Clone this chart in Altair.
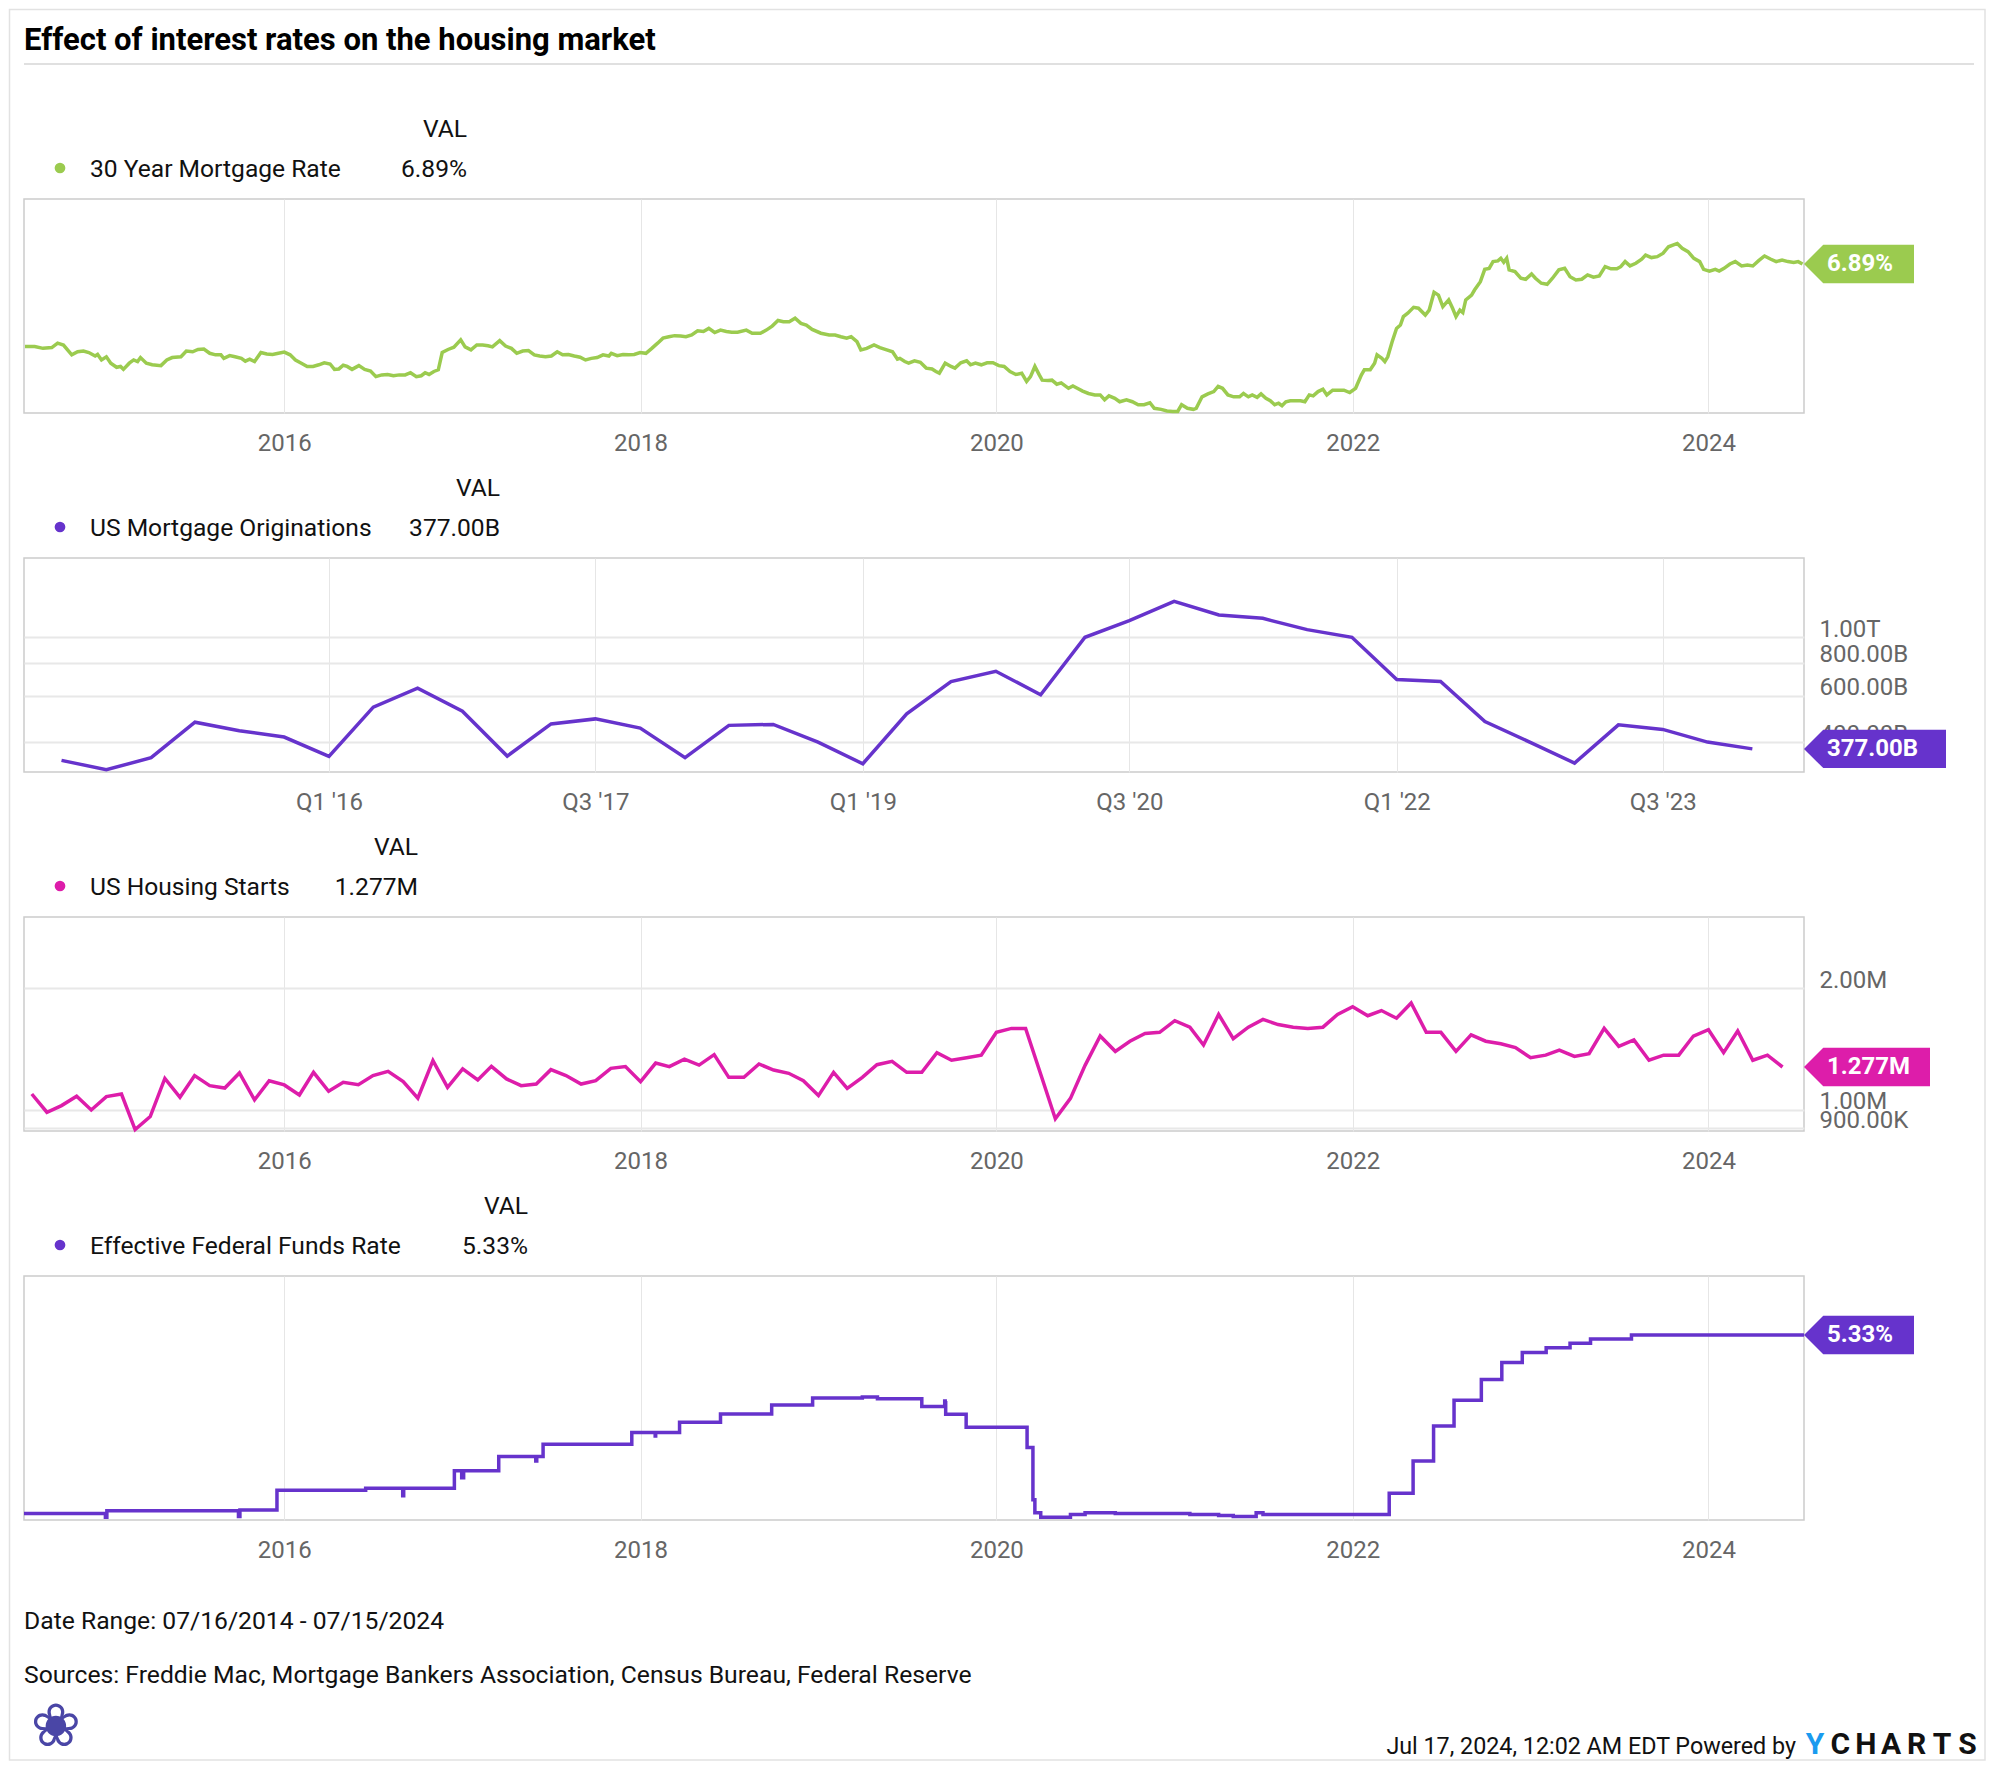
import altair as alt
import pandas as pd

# ---------------------------------------------------------------- data
# 30 Year Mortgage Rate (%), dates as decimal years
mort_years = [
    2014.543, 2014.598, 2014.646, 2014.695, 2014.727, 2014.759, 2014.808, 2014.840, 2014.872, 2014.904,
    2014.937, 2014.953, 2014.975, 2015.001, 2015.027, 2015.059, 2015.082, 2015.098, 2015.130, 2015.156,
    2015.178, 2015.194, 2015.227, 2015.259, 2015.307, 2015.340, 2015.372, 2015.420, 2015.452, 2015.485,
    2015.517, 2015.549, 2015.581, 2015.614, 2015.646, 2015.662, 2015.694, 2015.726, 2015.759, 2015.781,
    2015.807, 2015.833, 2015.871, 2015.904, 2015.936, 2015.968, 2016.000, 2016.033, 2016.065, 2016.097,
    2016.129, 2016.162, 2016.194, 2016.226, 2016.258, 2016.284, 2016.307, 2016.333, 2016.355, 2016.381,
    2016.420, 2016.452, 2016.484, 2016.516, 2016.549, 2016.581, 2016.613, 2016.645, 2016.678, 2016.710,
    2016.742, 2016.768, 2016.791, 2016.813, 2016.839, 2016.865, 2016.887, 2016.919, 2016.952, 2016.990,
    2017.016, 2017.048, 2017.081, 2017.113, 2017.145, 2017.168, 2017.210, 2017.242, 2017.274, 2017.306,
    2017.339, 2017.371, 2017.403, 2017.435, 2017.467, 2017.500, 2017.532, 2017.564, 2017.596, 2017.629,
    2017.661, 2017.693, 2017.725, 2017.758, 2017.790, 2017.822, 2017.838, 2017.870, 2017.903, 2017.935,
    2017.967, 2017.999, 2018.032, 2018.064, 2018.096, 2018.128, 2018.161, 2018.193, 2018.225, 2018.257,
    2018.290, 2018.322, 2018.354, 2018.386, 2018.418, 2018.451, 2018.483, 2018.515, 2018.547, 2018.596,
    2018.628, 2018.676, 2018.709, 2018.741, 2018.773, 2018.805, 2018.838, 2018.870, 2018.902, 2018.934,
    2018.966, 2019.015, 2019.063, 2019.095, 2019.128, 2019.160, 2019.186, 2019.218, 2019.240, 2019.273,
    2019.315, 2019.347, 2019.386, 2019.418, 2019.444,
    2019.460, 2019.486, 2019.508, 2019.541, 2019.574, 2019.606, 2019.639, 2019.662, 2019.681, 2019.714,
    2019.746, 2019.769, 2019.802, 2019.834, 2019.857, 2019.883, 2019.916, 2019.948, 2019.981, 2020.014,
    2020.046, 2020.079, 2020.111, 2020.144, 2020.170, 2020.193, 2020.216, 2020.242, 2020.258, 2020.291,
    2020.314, 2020.340, 2020.366, 2020.405, 2020.431, 2020.454, 2020.486, 2020.519, 2020.552, 2020.584,
    2020.607, 2020.633, 2020.666, 2020.692, 2020.731, 2020.763, 2020.796, 2020.829, 2020.861, 2020.887,
    2020.926, 2020.959, 2020.991, 2021.018, 2021.040, 2021.073, 2021.106, 2021.122, 2021.154, 2021.187,
    2021.220, 2021.246, 2021.269, 2021.301, 2021.334, 2021.366, 2021.389, 2021.415, 2021.438, 2021.464,
    2021.487, 2021.513, 2021.539, 2021.562, 2021.585, 2021.604, 2021.627, 2021.650, 2021.676, 2021.709,
    2021.732, 2021.758, 2021.780, 2021.806, 2021.833, 2021.855, 2021.888, 2021.921, 2021.953, 2021.986,
    2022.018, 2022.051, 2022.067, 2022.100, 2022.126, 2022.139, 2022.165, 2022.181, 2022.198, 2022.224,
    2022.247, 2022.269, 2022.286, 2022.312, 2022.344, 2022.370, 2022.409, 2022.432, 2022.458, 2022.484,
    2022.507, 2022.540, 2022.563, 2022.582, 2022.605, 2022.621, 2022.637, 2022.670, 2022.687, 2022.719,
    2022.745, 2022.768, 2022.791, 2022.817, 2022.833, 2022.850, 2022.866, 2022.882, 2022.915, 2022.947,
    2022.973, 2023.006, 2023.029, 2023.061, 2023.094, 2023.126, 2023.159, 2023.192, 2023.224, 2023.257,
    2023.290, 2023.322, 2023.355, 2023.387, 2023.420, 2023.453, 2023.485, 2023.508, 2023.534, 2023.560,
    2023.593, 2023.625, 2023.648, 2023.681, 2023.713, 2023.746, 2023.778, 2023.811, 2023.827, 2023.853,
    2023.886, 2023.919, 2023.951, 2023.974, 2024.007, 2024.039, 2024.062, 2024.088, 2024.121, 2024.153,
    2024.186, 2024.219, 2024.251, 2024.284, 2024.316, 2024.349, 2024.382, 2024.414, 2024.447, 2024.479,
    2024.505, 2024.530,
]
mort_vals = [
    4.11, 4.11, 4.06, 4.08, 4.20, 4.15, 3.89, 3.97, 3.99, 3.95,
    3.86, 3.90, 3.76, 3.84, 3.68, 3.58, 3.60, 3.53, 3.68, 3.76,
    3.72, 3.82, 3.68, 3.64, 3.62, 3.76, 3.82, 3.84, 3.99, 3.97,
    4.03, 4.04, 3.93, 3.89, 3.89, 3.80, 3.87, 3.84, 3.80, 3.73,
    3.78, 3.72, 3.95, 3.91, 3.90, 3.93, 3.96, 3.89, 3.76, 3.68,
    3.60, 3.60, 3.64, 3.69, 3.66, 3.53, 3.54, 3.63, 3.60, 3.53,
    3.62, 3.53, 3.49, 3.36, 3.40, 3.41, 3.38, 3.40, 3.40, 3.45,
    3.36, 3.38, 3.45, 3.41, 3.48, 3.52, 3.95, 4.03, 4.09, 4.29,
    4.10, 4.02, 4.15, 4.15, 4.13, 4.10, 4.27, 4.12, 4.06, 3.93,
    3.99, 4.00, 3.89, 3.86, 3.84, 3.86, 3.97, 3.89, 3.90, 3.86,
    3.83, 3.76, 3.80, 3.82, 3.89, 3.86, 3.93, 3.87, 3.90, 3.89,
    3.90, 3.95, 3.93, 4.06, 4.20, 4.34, 4.38, 4.41, 4.40, 4.38,
    4.43, 4.55, 4.53, 4.62, 4.50, 4.57, 4.53, 4.51, 4.51, 4.57,
    4.48, 4.48, 4.57, 4.69, 4.86, 4.82, 4.82, 4.93, 4.77, 4.72,
    4.59, 4.48, 4.43, 4.43, 4.38, 4.34, 4.38, 4.24, 4.02, 4.06,
    4.15, 4.08, 4.02, 3.97, 3.78,
    3.80, 3.72, 3.68, 3.74, 3.70, 3.56, 3.54, 3.48, 3.44, 3.68,
    3.60, 3.56, 3.69, 3.74, 3.64, 3.68, 3.64, 3.69, 3.69, 3.62,
    3.60, 3.48, 3.41, 3.44, 3.25, 3.36, 3.60, 3.40, 3.28, 3.27,
    3.28, 3.19, 3.22, 3.10, 3.15, 3.10, 3.04, 2.99, 2.96, 2.96,
    2.86, 2.94, 2.89, 2.82, 2.86, 2.82, 2.76, 2.76, 2.80, 2.69,
    2.67, 2.64, 2.63, 2.63, 2.76, 2.69, 2.67, 2.69, 2.92, 2.98,
    3.03, 3.14, 3.10, 2.96, 2.92, 2.92, 2.99, 2.92, 2.96, 2.91,
    2.98, 2.89, 2.84, 2.76, 2.79, 2.74, 2.82, 2.84, 2.84, 2.84,
    2.82, 2.96, 2.94, 3.03, 3.08, 2.96, 3.06, 3.06, 3.06, 3.01,
    3.10, 3.40, 3.52, 3.52, 3.68, 3.89, 3.80, 3.72, 3.84, 4.24,
    4.62, 4.72, 4.98, 5.09, 5.28, 5.25, 5.03, 5.19, 5.80, 5.70,
    5.30, 5.53, 5.25, 4.98, 5.19, 5.11, 5.53, 5.70, 5.88, 6.19,
    6.67, 6.71, 6.99, 7.02, 7.13, 6.96, 7.13, 6.65, 6.58, 6.32,
    6.28, 6.49, 6.32, 6.13, 6.09, 6.32, 6.65, 6.71, 6.38, 6.25,
    6.28, 6.45, 6.36, 6.41, 6.78, 6.69, 6.69, 6.78, 6.99, 6.81,
    6.92, 7.09, 7.27, 7.16, 7.20, 7.35, 7.64, 7.75, 7.79, 7.57,
    7.42, 7.13, 6.99, 6.67, 6.60, 6.67, 6.60, 6.71, 6.89, 6.99,
    6.81, 6.85, 6.81, 7.03, 7.23, 7.10, 6.99, 7.06, 6.99, 6.95,
    6.99, 6.89,
]

# US Mortgage Originations (billions USD), quarterly Q3 2014 .. Q1 2024
orig_start = "2014-07-01"
orig_vals = [
    341, 314, 349, 476, 442, 418, 353, 543, 641, 524,
    354, 469, 490, 452, 349, 463, 467, 400, 331, 512,
    679, 743, 605, 1000, 1156, 1369, 1215, 1180, 1069, 1000,
    691, 679, 479, 400, 333, 465, 447, 400, 377,
]

# US Housing Starts (thousands), monthly points from Aug 2014
starts_start = "2014-08-01"
starts_vals = [
    1095, 987, 1025, 1081, 1000, 1079, 1095, 894, 963, 1197,
    1075, 1216, 1148, 1133, 1234, 1059, 1181, 1153, 1089, 1239,
    1112, 1170, 1155, 1216, 1246, 1175, 1069, 1324, 1137, 1263,
    1186, 1282, 1193, 1148, 1159, 1258, 1216, 1159, 1181, 1267,
    1280, 1175, 1306, 1280, 1336, 1291, 1370, 1204, 1204, 1299,
    1255, 1232, 1181, 1085, 1239, 1131, 1204, 1294, 1319, 1239,
    1239, 1386, 1327, 1346, 1366,
    1556, 1591, 1591, 1225, 951, 1068, 1289, 1523, 1396, 1479,
    1546, 1556, 1662, 1602, 1447, 1723, 1501, 1602, 1674, 1626,
    1602, 1591, 1602, 1723, 1800, 1710, 1761, 1686, 1839, 1556,
    1556, 1396, 1534, 1479, 1458, 1427, 1346, 1366, 1406, 1356,
    1377, 1591, 1437, 1490, 1327, 1366, 1366, 1523, 1579, 1386,
    1568, 1327, 1366, 1277,
]

# Effective Federal Funds Rate (%), change points (step series)
fed_dates = [
    "2014-07-16", "2014-12-30", "2015-01-02", "2015-09-29", "2015-10-02", "2015-12-17",
    "2016-06-16", "2016-08-31", "2016-09-02", "2016-12-15", "2016-12-30", "2017-01-03",
    "2017-03-16", "2017-05-31", "2017-06-02", "2017-06-15", "2017-12-14", "2018-01-31",
    "2018-02-01", "2018-03-22", "2018-06-14", "2018-09-27", "2018-12-20", "2019-04-01",
    "2019-05-02", "2019-08-01", "2019-09-17", "2019-09-18", "2019-09-19", "2019-10-31",
    "2020-03-04", "2020-03-16", "2020-03-20", "2020-04-01", "2020-06-01", "2020-07-01",
    "2020-09-01", "2021-02-01", "2021-04-01", "2021-05-01", "2021-06-17", "2021-07-01",
    "2022-03-17", "2022-05-05", "2022-06-16", "2022-07-28", "2022-09-22", "2022-11-03",
    "2022-12-15", "2023-02-02", "2023-03-23", "2023-05-04", "2023-07-27", "2024-07-15",
]
fed_vals = [
    0.09, 0.05, 0.12, 0.06, 0.13, 0.37,
    0.40, 0.30, 0.40, 0.66, 0.55, 0.66,
    0.91, 0.83, 0.91, 1.16, 1.42, 1.34,
    1.42, 1.68, 1.91, 2.18, 2.40, 2.44,
    2.38, 2.13, 2.30, 2.25, 1.90, 1.55,
    1.09, 0.25, 0.10, 0.05, 0.08, 0.10,
    0.09, 0.08, 0.07, 0.06, 0.10, 0.08,
    0.33, 0.83, 1.58, 2.33, 3.08, 3.83,
    4.33, 4.58, 4.83, 5.08, 5.33, 5.33,
]

tick_years = [2016, 2018, 2020, 2022, 2024]
quarter_ticks = [(2016, 1), (2017, 7), (2019, 1), (2020, 7), (2022, 1), (2023, 7)]

TITLE = "Effect of interest rates on the housing market"
DATE_RANGE = "Date Range: 07/16/2014 - 07/15/2024"
SOURCES = "Sources: Freddie Mac, Mortgage Bankers Association, Census Bureau, Federal Reserve"
STAMP = "Jul 17, 2024, 12:02 AM EDT Powered by"
BRAND = ["Y", "C", "H", "A", "R", "T", "S"]

# ---------------------------------------------------------------- helpers
FONT = "Roboto"
GREEN = "#9BCB4F"
PURPLE = "#6633CC"
MAGENTA = "#DD1DAA"
W = 1780
LW = 3.5
LEG = 24.6


def dec_to_ts(y):
    yr = int(y)
    start = pd.Timestamp(year=yr, month=1, day=1)
    end = pd.Timestamp(year=yr + 1, month=1, day=1)
    return (start + (end - start) * (y - yr)).normalize()


pairs = list(zip(mort_years, mort_vals))
mort_df = pd.DataFrame({"d": [dec_to_ts(y) for y, _ in pairs], "v": [v for _, v in pairs]})
orig_df = pd.DataFrame({"d": pd.date_range(orig_start, periods=len(orig_vals), freq="QS"), "v": orig_vals})
starts_df = pd.DataFrame({"d": pd.date_range(starts_start, periods=len(starts_vals), freq="MS"), "v": starts_vals})
fed_df = pd.DataFrame({"d": pd.to_datetime(fed_dates), "v": fed_vals})

one = pd.DataFrame({"k": [0]})

AX = dict(grid=True, gridColor="#e6e6e6", gridWidth=1, ticks=False, tickSize=0, domain=False,
          labelFont=FONT, labelFontSize=24, labelColor="#666666", labelPadding=18,
          title=None, labelFlush=False, labelOverlap=False)

x_main = alt.Scale(domain=[alt.DateTime(year=2014, month=7, date=16), alt.DateTime(year=2024, month=7, date=15)])
x_orig = alt.Scale(domain=[alt.DateTime(year=2014, month=4, date=15), alt.DateTime(year=2024, month=4, date=16)])

x_years_axis = alt.Axis(values=[alt.DateTime(year=y, month=1, date=1) for y in tick_years], format="%Y", **AX)
x_q_axis = alt.Axis(values=[alt.DateTime(year=y, month=m, date=1) for y, m in quarter_ticks],
                    labelExpr="'Q' + quarter(datum.value) + \" '\" + timeFormat(datum.value, '%y')", **AX)

YAX = dict(orient="right", grid=True, gridColor="#e8e8e8", gridWidth=2, ticks=False, tickSize=0,
           domain=False, labelFont=FONT, labelFontSize=24, labelColor="#666666", labelPadding=15,
           labelBaseline="alphabetic", labelOffset=-1, labelOverlap=False, title=None)


def txt(text, x, y, size=LEG, weight="normal", color="#111111", align="left", font=FONT, baseline="alphabetic"):
    return alt.Chart(one).mark_text(align=align, baseline=baseline, font=font, fontSize=size,
                                    fontWeight=weight, color=color).encode(
        x=alt.value(x), y=alt.value(y), text=alt.value(text))


def panel(df, color, yscale, yaxis, xscale, xaxis, height, interp, name, label, val_x, tag_w, extra_before=(), extra_after=()):
    Y = alt.Y("v:Q", scale=yscale, axis=yaxis)
    line = alt.Chart(df).mark_line(color=color, strokeWidth=LW, interpolate=interp).encode(
        x=alt.X("d:T", scale=xscale, axis=xaxis), y=Y)
    last = pd.DataFrame({"v": [df["v"].iloc[-1]]})
    u = tag_w / 19.25
    path = f"M0,0L1,-1L{u:.3f},-1L{u:.3f},1L1,1Z"
    tag = alt.Chart(last).mark_point(shape=path, size=1482, filled=True, color=color, opacity=1).encode(
        x=alt.value(W), y=Y)
    tag_t = alt.Chart(last).mark_text(align="left", baseline="middle", font=FONT, fontSize=24,
                                      fontWeight="bold", color="white").encode(
        x=alt.value(W + 23), y=Y, text=alt.value(label))
    dot = alt.Chart(one).mark_circle(size=115, color=color, opacity=1).encode(x=alt.value(36), y=alt.value(-31))
    layers = list(extra_before) + [
        line, tag, tag_t, dot,
        txt(name, 66, -22),
        txt("VAL", val_x, -62, align="right"),
        txt(label, val_x, -22, align="right"),
    ] + list(extra_after)
    return alt.layer(*layers).properties(width=W, height=height)


# ---------------------------------------------------------------- panels
frame = alt.Chart(one).mark_rect(fill="white", fillOpacity=0, stroke="#e2e2e2", strokeWidth=1.5).encode(
    x=alt.value(-14.5), x2=alt.value(1961), y=alt.value(-189.5), y2=alt.value(1561))
top_rule = alt.Chart(one).mark_rule(color="#d6d6d6", strokeWidth=1.5).encode(
    x=alt.value(0), x2=alt.value(1950), y=alt.value(-135))

p1 = panel(mort_df, GREEN,
           alt.Scale(type="symlog", constant=1, domain=[2.60, 10.11], nice=False, zero=False), None,
           x_main, x_years_axis, 214, "linear", "30 Year Mortgage Rate",
           f"{mort_vals[-1]:.2f}%", 443, 110,
           extra_before=[frame, top_rule, txt(TITLE, 0, -149, size=31, weight="bold", color="#000000")])

p2 = panel(orig_df, PURPLE,
           alt.Scale(type="log", domain=[308, 2000], nice=False, zero=False),
           alt.Axis(values=[400, 600, 800, 1000],
                    labelExpr="datum.value >= 1000 ? format(datum.value / 1000, '.2f') + 'T' : format(datum.value, '.2f') + 'B'",
                    **YAX),
           x_orig, x_q_axis, 214, "linear", "US Mortgage Originations",
           f"{orig_vals[-1]:.2f}B", 476, 142)

p3 = panel(starts_df, MAGENTA,
           alt.Scale(type="log", domain=[887, 3000], nice=False, zero=False),
           alt.Axis(values=[900, 1000, 2000],
                    labelExpr="datum.value >= 1000 ? format(datum.value / 1000, '.2f') + 'M' : format(datum.value, '.2f') + 'K'",
                    **YAX),
           x_main, x_years_axis, 214, "linear", "US Housing Starts",
           f"{starts_vals[-1] / 1000:.3f}M", 394, 126)

footer = [
    txt(DATE_RANGE, 0, 353, size=24.7),
    txt(SOURCES, 0, 407, size=24.7),
    txt("\u2740", 32, 452, size=60, color="#4a46a6", align="center", font="DejaVu Sans", baseline="middle"),
    txt(STAMP, 1772, 478, size=23.3, align="right"),
]
for i, ch in enumerate(BRAND):
    footer.append(txt(ch, 1791 + i * 25.4, 478, size=30, weight="bold",
                      color="#1A9BEF" if i == 0 else "#111111", align="center"))

p4 = panel(fed_df, PURPLE,
           alt.Scale(type="symlog", constant=1, domain=[0.023, 10.32], nice=False, zero=False), None,
           x_main, x_years_axis, 244, "step-after", "Effective Federal Funds Rate",
           f"{fed_vals[-1]:.2f}%", 504, 110, extra_after=footer)

chart = alt.vconcat(p1, p2, p3, p4, spacing=145, bounds="flush", padding=0, background="white").configure_view(
    stroke="#cccccc", strokeWidth=1.5)

chart.save("out.html", embed_options={"renderer": "svg", "actions": False})
